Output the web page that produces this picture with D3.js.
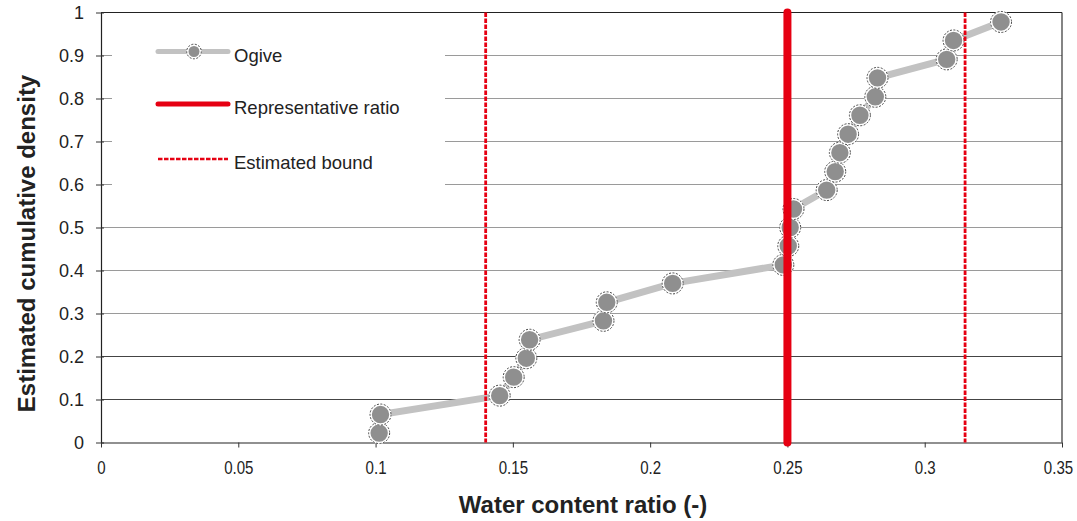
<!DOCTYPE html>
<html>
<head>
<meta charset="utf-8">
<script src="https://cdn.jsdelivr.net/npm/d3@7"></script>
<style>
  html, body { margin: 0; padding: 0; background: #fff; }
  svg { display: block; font-family: "Liberation Sans", Arial, sans-serif; }
</style>
</head>
<body>
<svg id="chart" width="1077" height="521"></svg>
<script>
// Ogive of water content ratio samples
const waterRatio = [0.1013, 0.1018, 0.1452, 0.1503, 0.1549, 0.1561, 0.1830, 0.1842,
  0.2082, 0.2485, 0.2503, 0.2510, 0.2522, 0.2643, 0.2674, 0.2691, 0.2721, 0.2764,
  0.2820, 0.2828, 0.3080, 0.3105, 0.3278];
const cumDensity = [0.022, 0.065, 0.109, 0.152, 0.196, 0.239, 0.283, 0.326,
  0.370, 0.413, 0.457, 0.500, 0.543, 0.587, 0.630, 0.674, 0.717, 0.761,
  0.804, 0.848, 0.891, 0.935, 0.978];
const representativeRatio = 0.25;
const estimatedBounds = [0.1401, 0.3147];

const xTicks = [0, 0.05, 0.1, 0.15, 0.2, 0.25, 0.3, 0.35];
const yTicks = [0, 0.1, 0.2, 0.3, 0.4, 0.5, 0.6, 0.7, 0.8, 0.9, 1];
const legendLabels = ["Ogive", "Representative ratio", "Estimated bound"];

const svg = d3.select("#chart");
const x = d3.scaleLinear().domain([0, 0.35]).range([101, 1062]);
const y = d3.scaleLinear().domain([0, 1]).range([442.5, 12.5]);

const RED = "#e60012";
const textColor = "#222";

// horizontal gridlines
const gridColor = v => (v === 0.1 || v === 0.2) ? "#444" : (v === 1 ? "#222" : "#9a9a9a");
svg.append("g").selectAll("line")
  .data(yTicks.filter(v => v > 0))
  .join("line")
  .attr("x1", x(0)).attr("x2", x(0.35))
  .attr("y1", d => y(d)).attr("y2", d => y(d))
  .attr("stroke", d => gridColor(d))
  .attr("stroke-width", 1.2);

// right frame line
svg.append("line")
  .attr("x1", x(0.35)).attr("x2", x(0.35))
  .attr("y1", y(1)).attr("y2", y(0))
  .attr("stroke", "#333").attr("stroke-width", 1.2);

// legend panel (covers gridlines)
svg.append("rect")
  .attr("x", 112).attr("y", 22).attr("width", 333).attr("height", 170)
  .attr("fill", "#fff");

// y axis
const yAxis = svg.append("g")
  .attr("transform", `translate(${x(0)},0)`)
  .call(d3.axisLeft(y).tickValues(yTicks).tickFormat(d3.format("~g")).tickSizeInner(5).tickSizeOuter(0).tickPadding(12));
yAxis.select(".domain").attr("stroke", "#222").attr("stroke-width", 1.2);
yAxis.selectAll(".tick line").attr("stroke", "#333").attr("x2", 3).attr("x1", -5);
yAxis.selectAll(".tick text")
  .attr("font-size", 18).attr("fill", textColor)
  .attr("font-family", "Liberation Sans, Arial, sans-serif");

// x axis (labels slightly condensed)
const xAxis = svg.append("g")
  .attr("transform", `translate(0,${y(0)})`)
  .call(d3.axisBottom(x).tickValues(xTicks).tickFormat(d3.format("~g")).tickSizeInner(5).tickSizeOuter(0).tickPadding(14));
xAxis.select(".domain").attr("stroke", "#222").attr("stroke-width", 1.2);
xAxis.selectAll(".tick line").attr("stroke", "#333");
xAxis.selectAll(".tick text")
  .attr("font-size", 17.5).attr("fill", textColor)
  .attr("font-family", "Liberation Sans, Arial, sans-serif")
  .attr("dx", d => d === 0.35 ? -4 : 0)
  .each(function () {
    const w = this.getComputedTextLength();
    d3.select(this).attr("textLength", w * 0.86).attr("lengthAdjust", "spacingAndGlyphs");
  });

// axis titles
svg.append("text")
  .attr("x", 583).attr("y", 513)
  .attr("text-anchor", "middle")
  .attr("font-size", 24).attr("font-weight", "bold").attr("fill", textColor)
  .text("Water content ratio (-)");
svg.append("text")
  .attr("transform", "translate(35,243.5) rotate(-90)")
  .attr("text-anchor", "middle")
  .attr("font-size", 24).attr("font-weight", "bold").attr("fill", textColor)
  .text("Estimated cumulative density");

// marker drawing helper
function marker(sel, r) {
  sel.append("circle").attr("r", r).attr("fill", "#8f8f8f")
    .attr("stroke", "#fff").attr("stroke-width", 2.2);
  sel.append("circle").attr("r", r + 0.7).attr("fill", "none")
    .attr("stroke", "#333").attr("stroke-width", 0.9)
    .attr("stroke-dasharray", "2,1.5");
}

// ogive line
const pts = waterRatio.map((v, i) => [v, cumDensity[i]]);
svg.append("path")
  .datum(pts)
  .attr("fill", "none")
  .attr("stroke", "#c2c2c2")
  .attr("stroke-width", 7)
  .attr("d", d3.line().x(d => x(d[0])).y(d => y(d[1])));

// ogive markers
svg.append("g").selectAll("g")
  .data(pts)
  .join("g")
  .attr("transform", d => `translate(${x(d[0])},${y(d[1])})`)
  .each(function () { marker(d3.select(this), 9.8); });

// estimated bounds
svg.append("g").selectAll("line")
  .data(estimatedBounds)
  .join("line")
  .attr("x1", d => x(d)).attr("x2", d => x(d))
  .attr("y1", y(1)).attr("y2", y(0))
  .attr("stroke", RED).attr("stroke-width", 2.8)
  .attr("stroke-dasharray", "4.5,1.5");

// representative ratio
svg.append("line")
  .attr("x1", x(representativeRatio)).attr("x2", x(representativeRatio))
  .attr("y1", y(1)).attr("y2", y(0))
  .attr("stroke", RED).attr("stroke-width", 8)
  .attr("stroke-linecap", "round");

// legend
const lg = svg.append("g");
const lx1 = 158, lx2 = 228, tx = 234;
const rows = [51.5, 104, 159];
lg.append("line").attr("x1", lx1).attr("x2", lx2).attr("y1", rows[0]).attr("y2", rows[0])
  .attr("stroke", "#c2c2c2").attr("stroke-width", 5).attr("stroke-linecap", "round");
marker(lg.append("g").attr("transform", `translate(194,${rows[0]})`), 6.6);
lg.append("line").attr("x1", lx1).attr("x2", lx2).attr("y1", rows[1]).attr("y2", rows[1])
  .attr("stroke", RED).attr("stroke-width", 5).attr("stroke-linecap", "round");
lg.append("line").attr("x1", lx1).attr("x2", lx2).attr("y1", rows[2]).attr("y2", rows[2])
  .attr("stroke", RED).attr("stroke-width", 2.6).attr("stroke-dasharray", "4.5,1.5");
lg.selectAll("text.lbl")
  .data(legendLabels)
  .join("text")
  .attr("class", "lbl")
  .attr("x", tx).attr("y", (d, i) => rows[i] + 10)
  .attr("font-size", 18.5).attr("fill", textColor)
  .text(d => d);
</script>
</body>
</html>
